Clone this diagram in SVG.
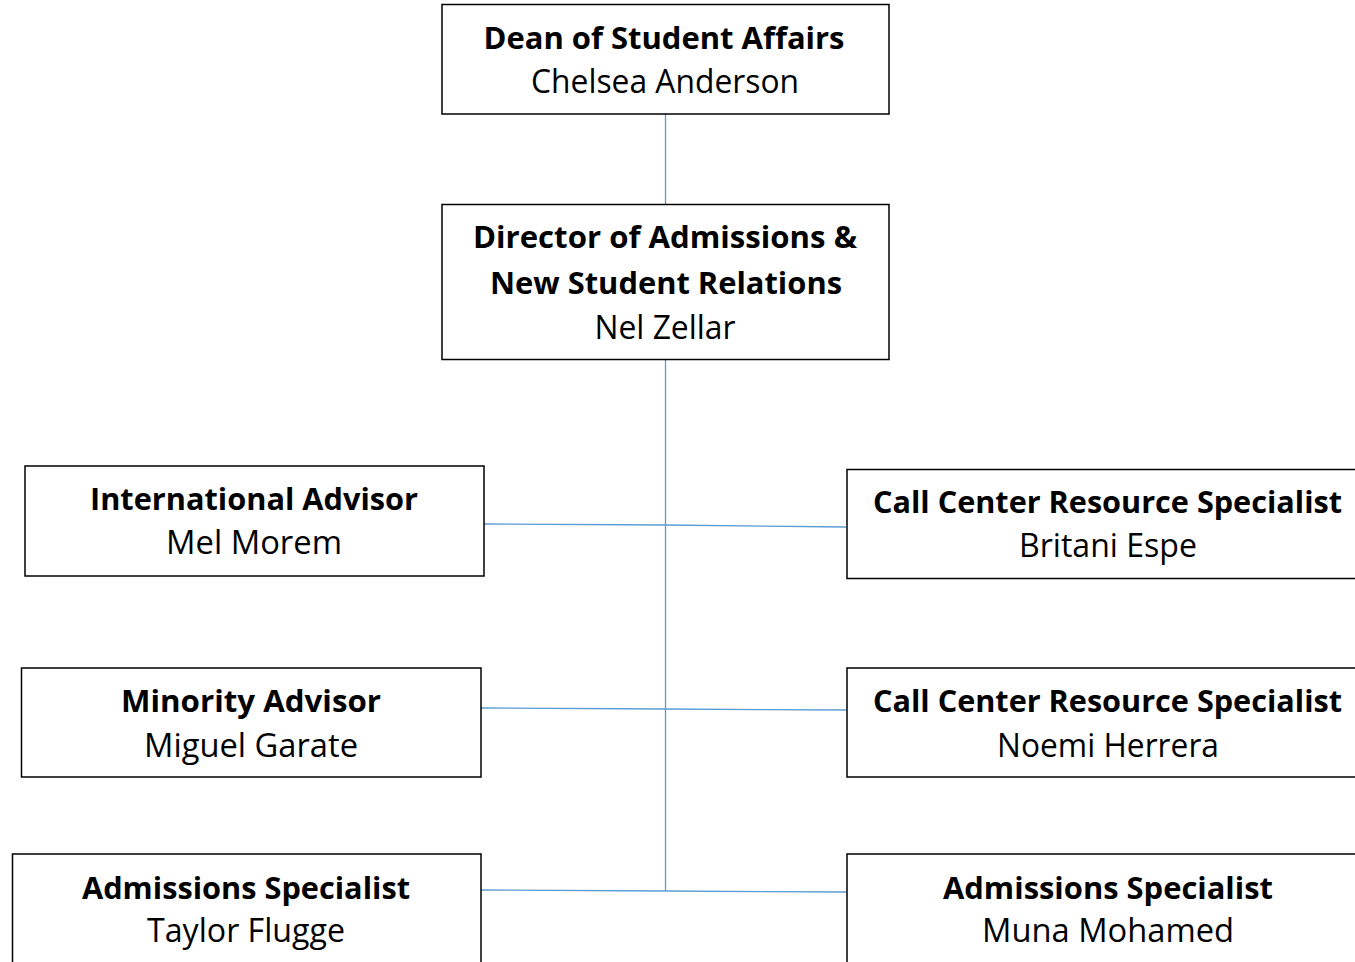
<svg xmlns="http://www.w3.org/2000/svg" width="1355" height="962" viewBox="0 0 1355 962">
<style>
.box{fill:#fff;stroke:#000;stroke-width:1.5}
.t{font-family:"Open Sans","Noto Sans","Liberation Sans",sans-serif;font-size:32px;fill:#000;text-anchor:middle}
.b{font-weight:bold;font-size:30px}
.c{stroke:#5B9BD5;stroke-width:1.3;fill:none}
</style>
<rect width="1355" height="962" fill="#fff"/>
<g id="connectors">
<line class="c" x1="665.5" y1="114" x2="665.5" y2="204"/>
<line class="c" x1="665.5" y1="359" x2="665.5" y2="891"/>
<line class="c" x1="484" y1="524" x2="665.5" y2="525"/>
<line class="c" x1="846" y1="527" x2="665.5" y2="525"/>
<line class="c" x1="481" y1="708" x2="665.5" y2="709"/>
<line class="c" x1="846" y1="710" x2="665.5" y2="709"/>
<line class="c" x1="481" y1="890" x2="665.5" y2="891"/>
<line class="c" x1="846" y1="892" x2="665.5" y2="891"/>
</g>
<g id="dean">
<rect class="box" x="442" y="4.5" width="447" height="109.5"/>
<text class="t b" x="664" y="49" textLength="361" lengthAdjust="spacingAndGlyphs">Dean of Student Affairs</text>
<text class="t" x="665" y="93" textLength="268" lengthAdjust="spacingAndGlyphs">Chelsea Anderson</text>
</g>
<g id="director">
<rect class="box" x="442" y="204.5" width="447" height="155"/>
<text class="t b" x="665" y="248" textLength="384" lengthAdjust="spacingAndGlyphs">Director of Admissions &amp;</text>
<text class="t b" x="666" y="294" textLength="352" lengthAdjust="spacingAndGlyphs">New Student Relations</text>
<text class="t" x="665" y="339" textLength="141" lengthAdjust="spacingAndGlyphs">Nel Zellar</text>
</g>
<g id="international">
<rect class="box" x="25" y="466" width="459" height="110"/>
<text class="t b" x="254" y="510" textLength="328" lengthAdjust="spacingAndGlyphs">International Advisor</text>
<text class="t" x="254" y="554" textLength="176" lengthAdjust="spacingAndGlyphs">Mel Morem</text>
</g>
<g id="callcenter1">
<rect class="box" x="847" y="469.5" width="530" height="109"/>
<text class="t b" x="1107.5" y="513" textLength="469" lengthAdjust="spacingAndGlyphs">Call Center Resource Specialist</text>
<text class="t" x="1108" y="557" textLength="178" lengthAdjust="spacingAndGlyphs">Britani Espe</text>
</g>
<g id="minority">
<rect class="box" x="21.5" y="668" width="459.5" height="109"/>
<text class="t b" x="251" y="712" textLength="260" lengthAdjust="spacingAndGlyphs">Minority Advisor</text>
<text class="t" x="251" y="757" textLength="214" lengthAdjust="spacingAndGlyphs">Miguel Garate</text>
</g>
<g id="callcenter2">
<rect class="box" x="847" y="668" width="530" height="109"/>
<text class="t b" x="1107.5" y="712" textLength="469" lengthAdjust="spacingAndGlyphs">Call Center Resource Specialist</text>
<text class="t" x="1108" y="757" textLength="222" lengthAdjust="spacingAndGlyphs">Noemi Herrera</text>
</g>
<g id="admissions1">
<rect class="box" x="12.5" y="854" width="468.5" height="130"/>
<text class="t b" x="246" y="899" textLength="328" lengthAdjust="spacingAndGlyphs">Admissions Specialist</text>
<text class="t" x="246" y="942" textLength="198" lengthAdjust="spacingAndGlyphs">Taylor Flugge</text>
</g>
<g id="admissions2">
<rect class="box" x="847" y="854" width="530" height="130"/>
<text class="t b" x="1108" y="899" textLength="330" lengthAdjust="spacingAndGlyphs">Admissions Specialist</text>
<text class="t" x="1108" y="942" textLength="252" lengthAdjust="spacingAndGlyphs">Muna Mohamed</text>
</g>
</svg>
